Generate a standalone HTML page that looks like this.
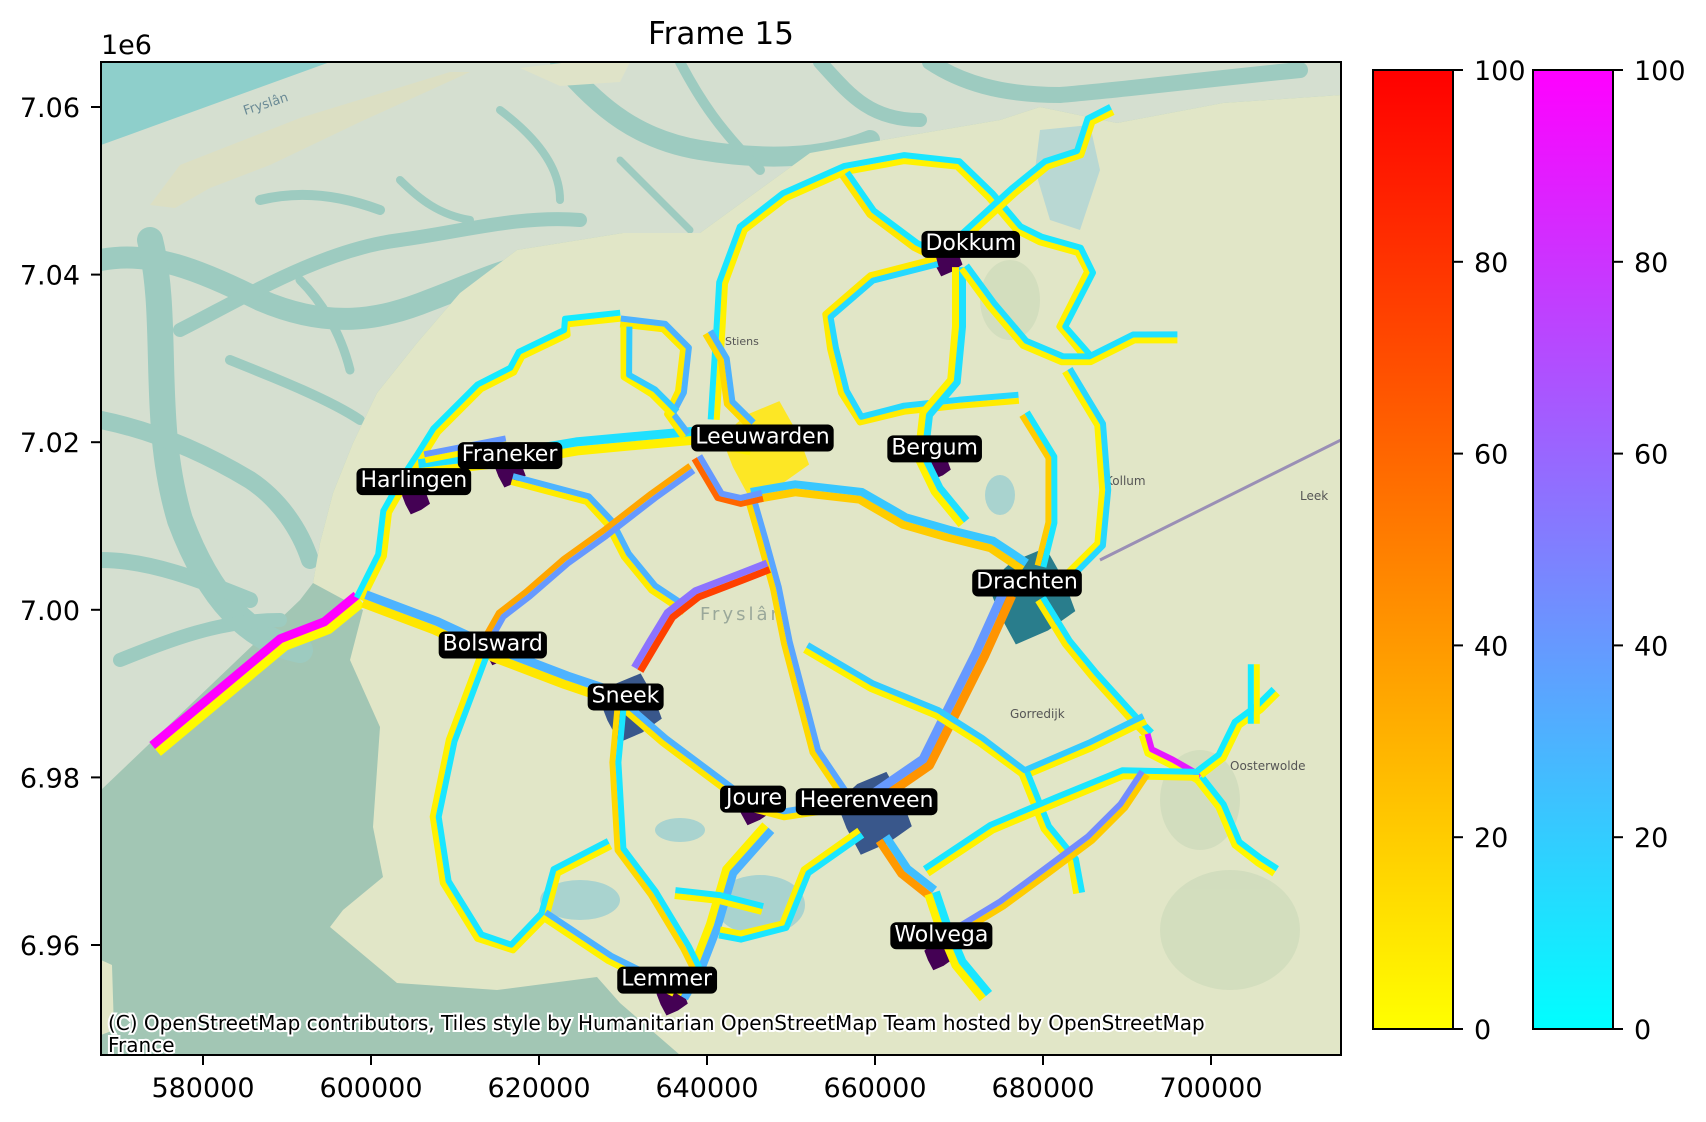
<!DOCTYPE html>
<html><head><meta charset="utf-8">
<style>
html,body{margin:0;padding:0;background:#fff;}
svg{display:block;font-family:"DejaVu Sans","Liberation Sans",sans-serif;}
</style></head>
<body>
<svg id="fig" width="1706" height="1122" viewBox="0 0 1706 1122" xmlns="http://www.w3.org/2000/svg">
<defs>
<clipPath id="axclip"><rect x="101" y="62" width="1240" height="993"/></clipPath>
<linearGradient id="gradAutumn" x1="0" y1="1" x2="0" y2="0"><stop offset="0" stop-color="#ffff00"/><stop offset="1" stop-color="#ff0000"/></linearGradient>
<linearGradient id="gradCool" x1="0" y1="1" x2="0" y2="0"><stop offset="0" stop-color="#00ffff"/><stop offset="1" stop-color="#ff00ff"/></linearGradient>
</defs>
<text x="721" y="44" text-anchor="middle" font-size="31">Frame 15</text>
<g clip-path="url(#axclip)">
  <rect x="101" y="62" width="1240" height="993" fill="#a2c6b4"/>
  <polygon points="101,62 1341,62 1341,95 1223,103 1117,123 1040,107 1000,120 900,137 810,153 700,233 623,233 517,250 460,293 417,343 377,393 353,443 333,493 320,543 313,583 300,600 101,790" fill="#d5dfd0"/>
  <polygon points="101,62 330,62 101,145" fill="#8ecfcb"/>
  <g fill="none" stroke="#9dcbc0" stroke-linecap="round">
    <path d="M101,260 C150,250 200,270 260,300 C330,330 380,320 430,300 C470,285 500,270 540,262" stroke-width="22"/>
    <path d="M180,330 C240,300 320,250 400,240 C460,232 520,215 580,220" stroke-width="14"/>
    <path d="M150,240 C170,320 150,420 180,520 C210,600 250,640 300,650" stroke-width="26"/>
    <path d="M101,420 C150,430 200,450 250,480 C280,500 300,530 310,560" stroke-width="18"/>
    <path d="M101,560 C150,560 200,580 250,600" stroke-width="16"/>
    <path d="M120,660 C170,640 220,620 280,620" stroke-width="14"/>
    <path d="M230,360 C280,380 330,400 360,420" stroke-width="10"/>
    <path d="M260,200 C300,190 340,195 380,210" stroke-width="10"/>
    <path d="M300,280 C320,300 340,330 350,370" stroke-width="9"/>
    <path d="M400,180 C420,200 440,215 470,220" stroke-width="8"/>
    <path d="M560,62 C600,110 640,140 700,150 C760,160 820,160 870,140" stroke-width="20"/>
    <path d="M680,62 C700,100 720,130 760,170" stroke-width="10"/>
    <path d="M820,62 C850,95 870,120 920,120" stroke-width="14"/>
    <path d="M930,62 C960,82 1000,95 1060,95 C1120,90 1200,80 1300,70" stroke-width="16"/>
    <path d="M500,110 C540,140 560,170 560,200" stroke-width="8"/>
    <path d="M620,160 C650,190 670,210 690,230" stroke-width="7"/>
  </g>
  <polygon points="150,205 180,165 300,118 450,72 470,72 360,122 270,165 210,188 175,208" fill="#dcdfc3"/>
  <polygon points="520,68 570,62 630,62 620,82 560,86" fill="#dfe3c8"/>
  <polygon points="313,583 320,543 333,493 353,443 377,393 417,343 460,293 517,250 623,233 700,233 810,153 900,137 1000,120 1040,107 1117,123 1223,103 1341,95 1341,1055 680,1055 620,1003 597,977 497,990 397,983 330,927 343,910 383,877 373,827 380,727 350,660 363,610" fill="#e1e6c7"/>
  <polygon points="1040,130 1090,125 1100,170 1080,230 1050,220 1035,170" fill="#b9d8d3"/>
  <g fill="#cfdcbc" opacity="0.8">
    <ellipse cx="1230" cy="930" rx="70" ry="60"/><ellipse cx="1200" cy="800" rx="40" ry="50"/><ellipse cx="1010" cy="300" rx="30" ry="40"/>
  </g>
  <g fill="#a9d3cf">
    <ellipse cx="580" cy="900" rx="40" ry="20"/><ellipse cx="760" cy="905" rx="45" ry="30"/><ellipse cx="680" cy="830" rx="25" ry="12"/><ellipse cx="1000" cy="495" rx="15" ry="20"/>
  </g>
  <polygon points="101,960 112,965 114,1030 101,1035" fill="#e1e6c7"/>
  <text x="245" y="115" font-size="13" fill="#6a8a95" transform="rotate(-18 245 115)">Fryslân</text>
  <text x="1105" y="485" font-size="12" fill="#555">Kollum</text>
  <text x="725" y="345" font-size="11" fill="#555">Stiens</text>
  <text x="1010" y="718" font-size="12" fill="#555">Gorredijk</text>
  <text x="1230" y="770" font-size="12" fill="#555">Oosterwolde</text>
  <text x="1300" y="500" font-size="12" fill="#555">Leek</text>
  <text x="700" y="620" font-size="18" fill="#9aa89a" letter-spacing="3">Fryslân</text>
  <path d="M1100,560 L1341,440" stroke="#9a8fb5" stroke-width="3" fill="none"/>
</g>
<g id="towns" clip-path="url(#axclip)"></g>
<g id="roads" clip-path="url(#axclip)"></g>
<g id="labels"></g>
<text x="108" y="1030" font-size="20" fill="#000" stroke="#fff" stroke-width="4" paint-order="stroke">(C) OpenStreetMap contributors, Tiles style by Humanitarian OpenStreetMap Team hosted by OpenStreetMap</text>
<text x="108" y="1052" font-size="20" fill="#000" stroke="#fff" stroke-width="4" paint-order="stroke">France</text>
<rect x="101" y="62" width="1240" height="993" fill="none" stroke="#000" stroke-width="2"/>
<g id="xaxis"></g>
<g id="yaxis"></g>
<text x="101" y="54" font-size="27">1e6</text>
<g id="cbars"></g>
</svg>
<script>
// ---- data (km) ----
const xTicks = [580000, 600000, 620000, 640000, 660000, 680000, 700000];
const yTicks = [6.96, 6.98, 7.00, 7.02, 7.04, 7.06];
const cbTicks = [0, 20, 40, 60, 80, 100];
const roadPaths = [
 [[574.3,6983.4],[589.5,6996.1],[594.7,6998.1],[598.6,7001.3]],
 [[598.6,7001.3],[601.2,7006.5],[601.8,7011.7],[604,7015.6],[605.7,7018.2],[607.7,7021.4],[612.9,7026.6],[616.8,7028.6],[617.8,7030.5],[623.2,7033.1],[623.2,7034.4],[629.7,7035.1]],
 [[605.7,7016.9],[616.8,7018.2],[624.5,7019.5],[631,7020.1],[638.8,7020.8],[645.3,7019.5]],
 [[606.4,7018.2],[616.1,7020.1]],
 [[616.8,7015.6],[625.8,7013.2],[628.4,7010.4],[630.4,7006.5],[633.6,7002.6],[637.5,7000]],
 [[638.2,7016.9],[633.6,7013.6],[627.8,7009.1],[623.2,7005.8],[618.7,7001.9],[615.5,6999.4],[612.9,6994.8]],
 [[599.2,7001.3],[607.7,6998.1],[614.8,6994.8],[623.2,6991.6],[629.1,6989.6]],
 [[630.4,6988.3],[634.9,6984.4],[640.1,6980.5],[645.3,6976.6],[649.2,6975.6],[654.4,6976.4],[659.6,6976.9]],
 [[659.6,6977.3],[666.1,6981.8],[668.7,6987],[672.6,6994.8],[675.8,7001.9]],
 [[645.1,7013.6],[646.6,7008.4],[648.2,7002.6],[649.5,6996.1],[651.2,6989.6],[652.9,6983.1],[656.4,6977.9]],
 [[645.3,7013.6],[650.5,7014.5],[658.3,7013.6],[663.5,7010.6],[668.7,7009.1],[673.9,7007.8],[677.8,7005.2]],
 [[640.8,7022.7],[641.5,7033.8],[641.8,7039],[644.2,7045.5],[649.2,7049.4],[656.4,7052.6],[663.5,7053.9],[669.9,7053.2],[673.8,7049.4],[677.1,7045.5],[679.7,7044.2],[684.3,7042.9],[685.6,7040.3],[682.3,7033.8],[685.6,7029.9]],
 [[656.4,7052],[659.6,7047.4],[664.8,7043.5],[667.4,7042.2]],
 [[668.7,7042.9],[676.5,7050],[680.4,7053.2],[684.3,7054.5],[685.6,7058.4],[688.2,7059.7]],
 [[667.4,7041.6],[659.6,7039.6],[654.4,7035.1],[655,7031.2],[656.3,7026],[658.3,7022.7],[663.5,7024],[670,7024.7],[677.1,7025.3]],
 [[670,7040.9],[670,7033.8],[669.4,7027.3],[666.1,7023.4],[665.5,7018.2],[667.4,7014.3],[670.6,7010.4]],
 [[670.6,7040.9],[673.9,7036.4],[677.8,7031.8],[682.3,7029.9],[685.6,7029.9],[690.8,7032.5],[696,7032.5]],
 [[677.8,7023.4],[681,7018.2],[681,7010.4],[679.7,7005.2]],
 [[682.9,7028.6],[686.8,7022.1],[687.4,7014.3],[686.8,7007.8],[682.9,7003.9]],
 [[679.7,7001.3],[682.9,6996.1],[686.1,6992.2],[690.8,6987],[692.7,6985.1]],
 [[692.1,6985.1],[692.7,6983.1],[695.3,6981.8],[698.6,6979.9]],
 [[698.6,6979.9],[701.2,6976.6],[703.1,6972.1],[705.7,6970.1],[707.7,6968.8]],
 [[698.6,6980.5],[701.2,6982.5],[703.1,6986.4],[705.7,6988.3],[707.7,6990.3]],
 [[705.1,6986.4],[705.1,6993.5]],
 [[651.8,6995.5],[659.6,6990.9],[667.4,6987.7],[672.6,6984.4],[677.8,6980.5],[685.6,6983.8],[692.1,6987]],
 [[677.8,6980.5],[680.4,6974],[683.6,6970.1],[684.3,6966.2]],
 [[666.1,6968.8],[673.9,6974],[681.7,6977.3],[689.5,6980.5],[698.6,6980.3]],
 [[660.9,6972.7],[663.5,6968.8],[666.8,6966.2]],
 [[666.8,6966.2],[668.1,6962.3],[670,6957.8],[673.2,6953.9]],
 [[668.7,6961],[675.1,6964.9],[680.4,6968.8],[685.6,6972.7],[689.5,6976.6],[692.1,6980.5]],
 [[647.3,6974],[642.7,6968.8],[640.8,6962.3],[638.8,6957.1],[636.9,6953.9]],
 [[629.7,6988.3],[629.1,6981.8],[629.7,6971.4],[633.6,6966.2],[637.5,6959.7],[638.8,6957.1]],
 [[613.5,6994.8],[609.6,6984.4],[607.7,6975.3],[608.9,6967.5],[612.9,6961],[616.8,6959.7],[620.6,6963.6],[622,6968.8],[628.4,6972.1]],
 [[620.6,6963.6],[628.4,6958.4],[636.2,6954.5]],
 [[658.3,6973.4],[651.8,6968.8],[649.2,6962.3],[644,6961],[641.5,6961.5]],
 [[636.2,6966.2],[641.5,6965.6],[646.6,6964.3]],
 [[629.7,7034.4],[634.9,7033.8],[637.5,7031.2],[636.9,7026],[635.6,7023.4],[637.5,7020.8]],
 [[630.4,7033.8],[630.4,7027.9],[633.6,7026],[636.2,7023.4]],
 [[640.1,7033.1],[642,7029.9],[642.7,7024.7],[645.3,7022.1]],
 [[638.8,7018.2],[641.5,7013.6],[644,7013],[646.6,7013.6]],
 [[631.7,6992.9],[633.6,6996.1],[635.6,6999.4],[638.8,7001.9],[644,7003.9],[647.3,7005.2]]
];
const autumnValues = [2,5,6,5,8,35,10,10,42,15,20,5,10,5,8,5,5,20,5,8,2,3,3,3,5,5,5,40,5,20,5,15,5,5,5,5,8,5,15,60,75];
const coolValues =   [100,8,12,40,30,40,30,30,40,35,22,10,10,10,15,12,12,10,15,10,90,8,8,8,20,10,10,25,10,45,30,10,10,30,10,10,30,20,30,40,55];
const roadWidths =   [9,6,9,6,6,6,9,6,9,6,8,6,6,6,6,7,6,6,6,6,6,6,6,6,6,6,6,8,8,6,8,6,6,6,6,6,6,6,6,6,7];
const townNames = ["Dokkum","Leeuwarden","Bergum","Franeker","Harlingen","Drachten","Bolsward","Sneek","Joure","Heerenveen","Wolvega","Lemmer"];
const townX = [668.5,646.8,667.5,616.5,605.3,678.5,615,630.8,645.5,659.8,667.5,635.8];
const townY = [7041.8,7019.0,7017.2,7016.6,7013.2,7001.5,6995.2,6988.2,6976.5,6975.6,6958.8,6953.6];
const townValues = [0.0,1.0,0.0,0.0,0.0,0.42,0.0,0.27,0.0,0.27,0.0,0.0];
const townRadius = [2.0,5.6,1.6,2.0,1.8,5.6,1.8,4.0,2.2,4.8,1.8,2.0];
const labelX = [671.4,646.6,667.1,616.5,605.1,678.1,614.5,630.3,645.6,659,667.9,635.2];
const labelY = [7043.9,7020.8,7019.5,7018.7,7015.6,7003.5,6996.1,6989.9,6977.7,6977.4,6961.4,6956.1];

// ---- axis functions ----
const AX = {l:101, r:1341, t:62, b:1055};
const px = x => 101 + (x - 567.857) * 8.4;
const py = y => 945 - (y - 6960) * 8.38;
const cbY = v => 1029 - v / 100 * 959;
const NS = "http://www.w3.org/2000/svg";
function mk(tag, attrs, parent){ const e=document.createElementNS(NS,tag); for(const k in attrs) e.setAttribute(k,attrs[k]); parent.appendChild(e); return e; }
const autumn = v => `rgb(255,${Math.round(255*(1-v/100))},0)`;
const cool = v => `rgb(${Math.round(255*v/100)},${Math.round(255*(1-v/100))},255)`;
const vir = [[68,1,84],[59,82,139],[33,145,140],[94,201,98],[253,231,37]];
function viridis(t){ const s=t*4, i=Math.min(3,Math.floor(s)), f=s-i; const a=vir[i], b=vir[i+1]; return `rgb(${a.map((c,k)=>Math.round(c+(b[k]-c)*f)).join(',')})`; }

// ---- towns ----
const gT = document.getElementById('towns');
townNames.forEach((n,i)=>{
  const cx=px(townX[i]), cy=py(townY[i]), r=townRadius[i]*8.4;
  const jit=[1,0.8,1.05,0.75,0.95,0.85,1.1,0.8];
  const pts=jit.map((j,k)=>{const a=k/8*2*Math.PI+0.3; return (cx+Math.cos(a)*r*j).toFixed(1)+','+(cy+Math.sin(a)*r*j).toFixed(1);}).join(' ');
  const p = mk('polygon',{points:pts, fill:viridis(townValues[i])}, gT);
  
  
});

// ---- roads ----
function offsetPts(pts, d){
  const P=pts.map(p=>[px(p[0]),py(p[1])]);
  return P.map((p,i)=>{
    const a=P[Math.max(0,i-1)], b=P[Math.min(P.length-1,i+1)];
    let dx=b[0]-a[0], dy=b[1]-a[1]; const L=Math.hypot(dx,dy)||1;
    return (p[0]-dy/L*d).toFixed(1)+','+(p[1]+dx/L*d).toFixed(1);
  }).join(' ');
}
const gR = document.getElementById('roads');
roadPaths.forEach((pts,i)=>{
  const w=roadWidths[i];
  const a = mk('polyline',{points:offsetPts(pts, w*0.5), fill:'none', stroke:autumn(autumnValues[i]), 'stroke-width':w, 'stroke-linejoin':'round', 'stroke-linecap':'butt'}, gR);
  
  
  const c = mk('polyline',{points:offsetPts(pts, -w*0.5), fill:'none', stroke:cool(coolValues[i]), 'stroke-width':w, 'stroke-linejoin':'round', 'stroke-linecap':'butt'}, gR);
  
  
});

// ---- labels ----
const gL = document.getElementById('labels');
townNames.forEach((n,i)=>{
  const g = mk('g',{}, gL);
  
  
  const rect = mk('rect',{fill:'#000', rx:6, ry:6}, g);
  const t = mk('text',{x:px(labelX[i]), y:py(labelY[i])+8, 'text-anchor':'middle', 'font-size':22, fill:'#fff'}, g);
  t.textContent = n;
  const bb = t.getBBox();
  rect.setAttribute('x', bb.x-4); rect.setAttribute('y', bb.y); rect.setAttribute('width', bb.width+8); rect.setAttribute('height', bb.height+2);
});

// ---- axes ----
const gX = document.getElementById('xaxis');
xTicks.forEach(v=>{
  const x=px(v/1000);
  const l = mk('line',{x1:x,x2:x,y1:AX.b,y2:AX.b+10,stroke:'#000','stroke-width':2}, gX);
  
  
  const t = mk('text',{x:x,y:AX.b+42,'text-anchor':'middle','font-size':27}, gX);
  
  
  t.textContent=String(v);
});
const gY = document.getElementById('yaxis');
yTicks.forEach(v=>{
  const y=py(v*1000);
  const l = mk('line',{x1:AX.l-10,x2:AX.l,y1:y,y2:y,stroke:'#000','stroke-width':2}, gY);
  
  
  const t = mk('text',{x:AX.l-21,y:y+10,'text-anchor':'end','font-size':27}, gY);
  
  
  t.textContent=v.toFixed(2);
});

// ---- colorbars ----
const gC = document.getElementById('cbars');
[[1373,'gradAutumn','colorbar-autumn'],[1533,'gradCool','colorbar-cool']].forEach(([x0,grad,name])=>{
  const r = mk('rect',{x:x0,y:cbY(100),width:80,height:cbY(0)-cbY(100),fill:`url(#${grad})`,stroke:'#000','stroke-width':2}, gC);
  
  
  cbTicks.forEach(v=>{
    const y=cbY(v);
    const l = mk('line',{x1:x0+80,x2:x0+90,y1:y,y2:y,stroke:'#000','stroke-width':2}, gC);
    
    
    const t = mk('text',{x:x0+101,y:y+10,'font-size':27}, gC);
    
    
    t.textContent=String(v);
  });
});
</script>
</body></html>
